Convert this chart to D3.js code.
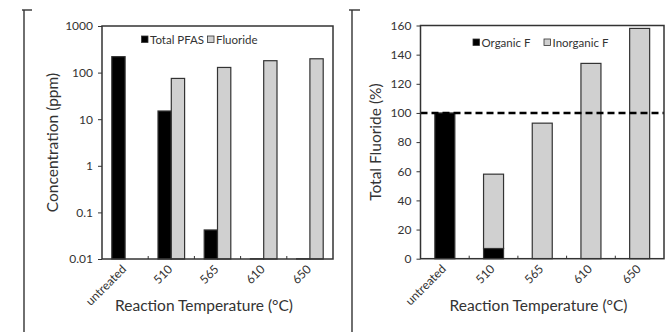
<!DOCTYPE html>
<html>
<head>
<meta charset="utf-8">
<script src="https://cdn.jsdelivr.net/npm/d3@7"></script>
<style>
  body { margin: 0; background: #fff; }
  svg { display: block; }
  text { font-family: Lato, "Open Sans", sans-serif; fill: #333; }
</style>
</head>
<body>
<svg id="chart" width="672" height="332"></svg>
<script>
// data
const temps = ["untreated", "510", "565", "610", "650"];
const totalPfas = [220, 15, 0.042, 0.0101, 0.0101];
const fluoride = [null, 75, 129, 180, 198];
const logTicks = [0.01, 0.1, 1, 10, 100, 1000];

const organicF = [100, 7, 0, 0, 0];
const inorganicF = [0, 51, 93, 134, 158];
const pctTicks = [0, 20, 40, 60, 80, 100, 120, 140, 160];
const refLine = 100;

const svg = d3.select("#chart");
const ink = "#333";

// outer brackets around each panel
[[24, 22, 32], [352, 349, 360]].forEach(([x, x0, x1]) => {
  svg.append("line").attr("x1", x).attr("x2", x).attr("y1", 10).attr("y2", 332)
    .attr("stroke", ink).attr("stroke-width", 1.4);
  svg.append("line").attr("x1", x0).attr("x2", x1).attr("y1", 10).attr("y2", 10)
    .attr("stroke", ink).attr("stroke-width", 1.4);
});

function frame(g, x, y, w, h) {
  g.append("rect").attr("x", x).attr("y", y).attr("width", w).attr("height", h)
    .attr("fill", "none").attr("stroke", ink).attr("stroke-width", 1.5);
}

function xAxis(g, x, bottom, title, titleX) {
  // small inward ticks at band boundaries
  temps.slice(1).forEach(t => {
    const bx = x(t) - x.step() * x.paddingInner() / 2;
    g.append("line").attr("x1", bx).attr("x2", bx).attr("y1", bottom).attr("y2", bottom - 3)
      .attr("stroke", ink).attr("stroke-width", 1);
  });
  temps.forEach(t => {
    const cx = x(t) + x.bandwidth() / 2 + 2;
    g.append("text").attr("transform", `translate(${cx},${bottom + 11}) rotate(-45)`)
      .attr("text-anchor", "end").attr("font-size", 12).text(t);
  });
  g.append("text").attr("x", titleX).attr("y", 311).attr("text-anchor", "middle")
    .attr("font-size", 15.5).text(title);
}

function legend(g, x, y, items) {
  let cx = x;
  items.forEach(([label, fill, gap]) => {
    g.append("rect").attr("x", cx).attr("y", y - 3.5).attr("width", 6.5).attr("height", 6.5)
      .attr("fill", fill).attr("stroke", ink).attr("stroke-width", 0.8);
    g.append("text").attr("x", cx + 8.5).attr("y", y).attr("dy", "0.35em")
      .attr("font-size", 11.5).text(label);
    cx += gap;
  });
}

// ---------- left panel: log concentration ----------
{
  const L = 102, R = 333, T = 26, B = 259;
  const g = svg.append("g");
  const x = d3.scaleBand().domain(temps).range([L, R]).padding(0);
  const y = d3.scaleLog().domain([0.01, 1000]).range([B, T]);
  const bw = 13.3;

  const rows = temps.map((t, i) => ({ t, pfas: totalPfas[i], fl: fluoride[i] }));
  const yAx = d3.axisLeft(y).tickValues(logTicks).tickSize(4).tickPadding(5)
    .tickFormat(d => String(d));
  const ya = g.append("g").attr("transform", `translate(${L},0)`).call(yAx);
  ya.select(".domain").remove();
  ya.selectAll("line").attr("stroke", ink);
  ya.selectAll("text").attr("font-size", 12).attr("fill", ink).attr("font-family", null);

  g.selectAll(".pf").data(rows.filter(d => d.pfas != null)).join("rect")
    .attr("x", d => x(d.t) + x.bandwidth() / 2 - bw)
    .attr("y", d => y(d.pfas)).attr("width", bw)
    .attr("height", d => y(0.01) - y(d.pfas))
    .attr("fill", "#000").attr("stroke", ink).attr("stroke-width", 1.2);
  g.selectAll(".fl").data(rows.filter(d => d.fl != null)).join("rect")
    .attr("x", d => x(d.t) + x.bandwidth() / 2)
    .attr("y", d => y(d.fl)).attr("width", bw)
    .attr("height", d => y(0.01) - y(d.fl))
    .attr("fill", "#d0d0d0").attr("stroke", ink).attr("stroke-width", 1.2);

  frame(g, L, T, R - L, B - T);
  xAxis(g, x, B, "Reaction Temperature (°C)", 204);
  g.append("text").attr("transform", `translate(58,${(T + B) / 2}) rotate(-90)`)
    .attr("text-anchor", "middle").attr("font-size", 15.5).text("Concentration (ppm)");
  legend(g, 141.5, 39.5, [["Total PFAS", "#000", 66], ["Fluoride", "#d0d0d0", 0]]);
}

// ---------- right panel: % total fluoride ----------
{
  const L = 420.5, R = 664, T = 25.5, B = 258.7;
  const g = svg.append("g");
  const x = d3.scaleBand().domain(temps).range([L, R]).padding(0);
  const y = d3.scaleLinear().domain([0, 160]).range([B, T]);
  const bw = 20;

  const stack = d3.stack().keys(["org", "inorg"])(
    temps.map((t, i) => ({ t, org: organicF[i], inorg: inorganicF[i] })));

  const yAx = d3.axisLeft(y).tickValues(pctTicks).tickSize(4).tickPadding(5);
  const ya = g.append("g").attr("transform", `translate(${L},0)`).call(yAx);
  ya.select(".domain").remove();
  ya.selectAll("line").attr("stroke", ink);
  ya.selectAll("text").attr("font-size", 12).attr("fill", ink).attr("font-family", null);

  const fills = { org: "#000", inorg: "#d0d0d0" };
  stack.forEach(s => {
    g.selectAll(".b" + s.key).data(s.filter(d => d[1] > d[0])).join("rect")
      .attr("x", d => x(d.data.t) + x.bandwidth() / 2 - bw / 2)
      .attr("y", d => y(d[1])).attr("width", bw)
      .attr("height", d => y(d[0]) - y(d[1]))
      .attr("fill", fills[s.key]).attr("stroke", ink).attr("stroke-width", 1.2);
  });

  g.append("line").attr("x1", L).attr("x2", R).attr("y1", y(refLine)).attr("y2", y(refLine))
    .attr("stroke", "#000").attr("stroke-width", 2.4).attr("stroke-dasharray", "7,4");

  frame(g, L, T, R - L, B - T);
  xAxis(g, x, B, "Reaction Temperature (°C)", 538.5);
  g.append("text").attr("transform", `translate(381,${(T + B) / 2}) rotate(-90)`)
    .attr("text-anchor", "middle").attr("font-size", 15.5).text("Total Fluoride (%)");
  legend(g, 473, 42.5, [["Organic F", "#000", 71], ["Inorganic F", "#d0d0d0", 0]]);
}
</script>
</body>
</html>
